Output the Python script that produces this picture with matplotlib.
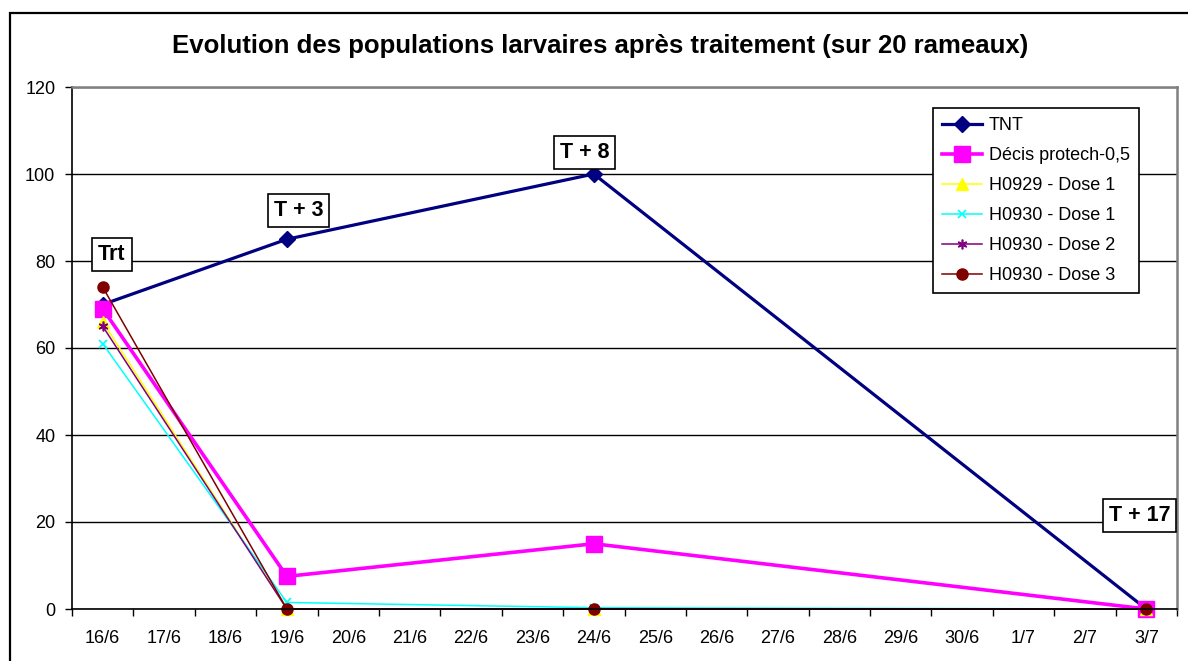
import matplotlib
matplotlib.use("Agg")
import matplotlib.pyplot as plt
from matplotlib.patches import Rectangle

plt.rcParams['font.family'] = ['Liberation Sans', 'DejaVu Sans']

# categories on the x axis (one per day)
dates = ['16/6', '17/6', '18/6', '19/6', '20/6', '21/6', '22/6', '23/6', '24/6',
         '25/6', '26/6', '27/6', '28/6', '29/6', '30/6', '1/7', '2/7', '3/7']

# observation dates and counts (larvae on 20 branches)
obs_dates = ['16/6', '19/6', '24/6', '3/7']
tnt = [70, 85, 100, 0]
decis = [69, 7.5, 15, 0]
h0929_d1 = [66, 0, 0, 0]
h0930_d1 = [61, 1.5, 0.3, 0]
h0930_d2 = [65, 0, 0, 0]
h0930_d3 = [74, 0, 0, 0]

series_names = ['TNT', 'Décis protech-0,5', 'H0929 - Dose 1',
                'H0930 - Dose 1', 'H0930 - Dose 2', 'H0930 - Dose 3']

# time labels put on the chart
event_labels = ['Trt', 'T + 3', 'T + 8', 'T + 17']

fig = plt.figure(figsize=(11.88, 6.61), dpi=100)
ax = fig.add_axes([72 / 1188, 52 / 661, 1105 / 1188, 522 / 661])

x = [dates.index(d) for d in obs_dates]
styles = [
    dict(color='#000080', marker='D', ms=8, lw=2.3),
    dict(color='#FF00FF', marker='s', ms=11, lw=2.6),
    dict(color='#FFFF00', marker='^', ms=8, lw=1.1),
    dict(color='#00FFFF', marker='x', ms=6, mew=1.2, lw=1.1),
    dict(color='#800080', marker=(6, 2, 0), ms=7, mew=1.2, lw=1.1),
    dict(color='#800000', marker='o', ms=8, lw=1.1),
]
for vals, name, st in zip([tnt, decis, h0929_d1, h0930_d1, h0930_d2, h0930_d3],
                          series_names, styles):
    ax.plot(x, vals, label=name, clip_on=False, **st)

ax.set_xlim(-0.5, len(dates) - 0.5)
ax.set_ylim(0, 120)
ax.set_yticks(range(0, 121, 20))
ax.set_xticks(range(len(dates)))
ax.set_xticklabels(dates)
ax.set_xticks([i - 0.5 for i in range(len(dates) + 1)], minor=True)
ax.tick_params(axis='x', which='major', length=0, pad=15, labelsize=13)
ax.tick_params(axis='x', which='minor', length=5, width=1, direction='out')
ax.tick_params(axis='y', length=5, width=1, direction='out', pad=7, labelsize=13)

ax.grid(axis='y', color='black', lw=1)
ax.set_axisbelow(True)
for s in ['left', 'bottom']:
    ax.spines[s].set_color('black')
    ax.spines[s].set_linewidth(1.2)
for s in ['top', 'right']:
    ax.spines[s].set_color('#808080')
    ax.spines[s].set_linewidth(1.8)

label_pos = [(0.15, 81.4), (3.19, 91.7), (7.85, 105), (16.89, 21.6)]
for txt, (lx, ly) in zip(event_labels, label_pos):
    ax.text(lx, ly, txt, ha='center', va='center', fontsize=15.5, fontweight='bold',
            bbox=dict(boxstyle='square,pad=0.28', fc='white', ec='black', lw=1.2),
            clip_on=False, zorder=5)

leg = ax.legend(loc='upper right', bbox_to_anchor=(0.9656, 0.9598), borderaxespad=0,
                fontsize=13, fancybox=False, framealpha=1, edgecolor='black',
                handlelength=2.2, handletextpad=0.4, labelspacing=0.72, borderpad=0.5)
leg.get_frame().set_linewidth(1.2)

fig.text(0.505, 1 - 46 / 661, 'Evolution des populations larvaires après traitement (sur 20 rameaux)',
         ha='center', va='center', fontsize=18.5, fontweight='bold')

fig.patches.append(Rectangle((10 / 1188, -0.1), 1.2, 1.1 - 13 / 661, transform=fig.transFigure,
                             fill=False, ec='black', lw=1.6, clip_on=False))

fig.savefig('out.png', dpi=100)
